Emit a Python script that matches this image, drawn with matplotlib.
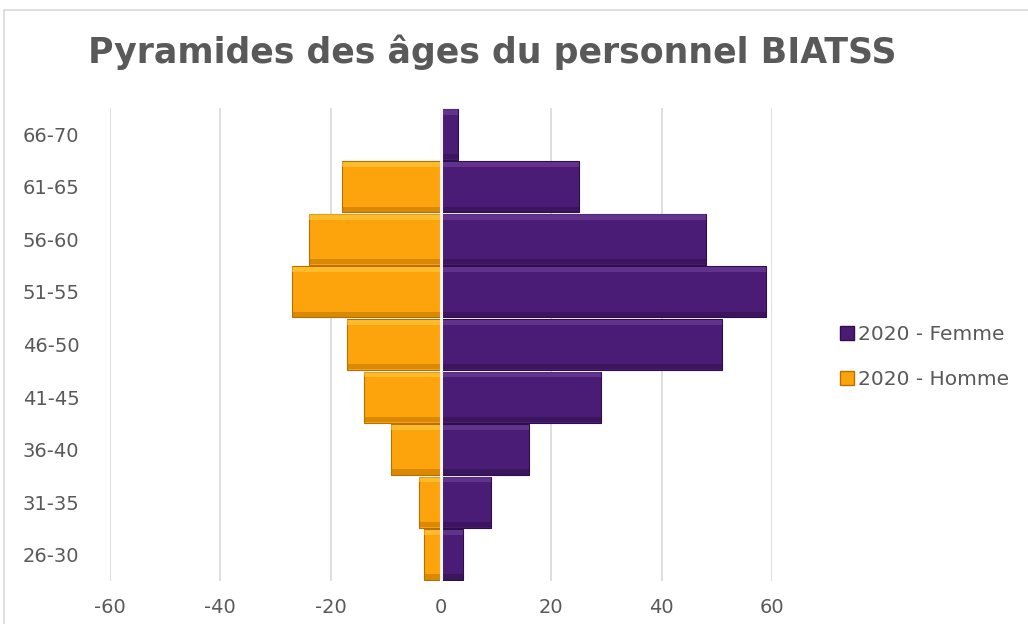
import matplotlib.pyplot as plt
from matplotlib.patches import Rectangle
import numpy as np

ages = ["26-30", "31-35", "36-40", "41-45", "46-50", "51-55", "56-60", "61-65", "66-70"]
femme = [4, 9, 16, 29, 51, 59, 48, 25, 3]
homme = [-3, -4, -9, -14, -17, -27, -24, -18, 0]
xticks = [-60, -40, -20, 0, 20, 40, 60]

purple = "#4b1c75"
orange = "#fda40c"
gray = "#595959"

plt.rcParams['font.family'] = ['DejaVu Sans']

fig = plt.figure(figsize=(10.28, 6.24), dpi=100)
ax = fig.add_axes([110/1028, 1-581/624, (772-110)/1028, (581-108)/624])

# light border around the chart area
fig.patches.append(Rectangle((4/1028, -0.1), 1.2, 1-10/624+0.1, transform=fig.transFigure,
                             fill=False, edgecolor="#d9d9d9", linewidth=1.2))

y = np.arange(len(ages))
h = 0.97

def bevel_bars(vals, color, light, dark):
    ax.barh(y, vals, height=h, color=color, edgecolor=dark, linewidth=0.8, zorder=2)
    # highlight strip on top, shadow strip at bottom
    ax.barh(y + h/2 - 0.06, vals, height=0.1, color=light, linewidth=0, alpha=0.5, zorder=3)
    ax.barh(y - h/2 + 0.06, vals, height=0.1, color=dark, linewidth=0, alpha=0.5, zorder=3)

bevel_bars(femme, purple, "#7a4aa6", "#2e0f4a")
bevel_bars(homme, orange, "#ffd24a", "#b86f00")

ax.axvline(0, color="#f2f2f2", linewidth=2.2, zorder=4)

ax.set_xlim(-60, 60)
ax.set_ylim(-0.5, len(ages) - 0.5)
ax.set_xticks(xticks)
ax.set_xticklabels([str(v) for v in xticks])
ax.set_yticks(y)
ax.set_yticklabels(ages)
ax.grid(axis="x", color="#d9d9d9", linewidth=1.2, zorder=0)
ax.set_axisbelow(True)
for s in ax.spines.values():
    s.set_visible(False)
ax.tick_params(length=0, labelsize=14, colors=gray)
ax.tick_params(axis="x", pad=12)
ax.tick_params(axis="y", pad=22)

fig.text(0.479, 1-52/624, "Pyramides des âges du personnel BIATSS", ha="center", va="center",
         fontsize=25, fontweight="bold", color=gray)

handles = [Rectangle((0, 0), 1, 1, facecolor=purple, edgecolor="#2e0f4a"),
           Rectangle((0, 0), 1, 1, facecolor=orange, edgecolor="#b86f00")]
fig.legend(handles, ["2020 - Femme", "2020 - Homme"], loc="center left",
           bbox_to_anchor=(822/1028, 1-357/624), frameon=False, fontsize=14.5,
           handlelength=0.7, handleheight=0.7, handletextpad=0.2, labelspacing=1.3,
           labelcolor=gray)

fig.savefig("out.png", dpi=100, facecolor="white")
